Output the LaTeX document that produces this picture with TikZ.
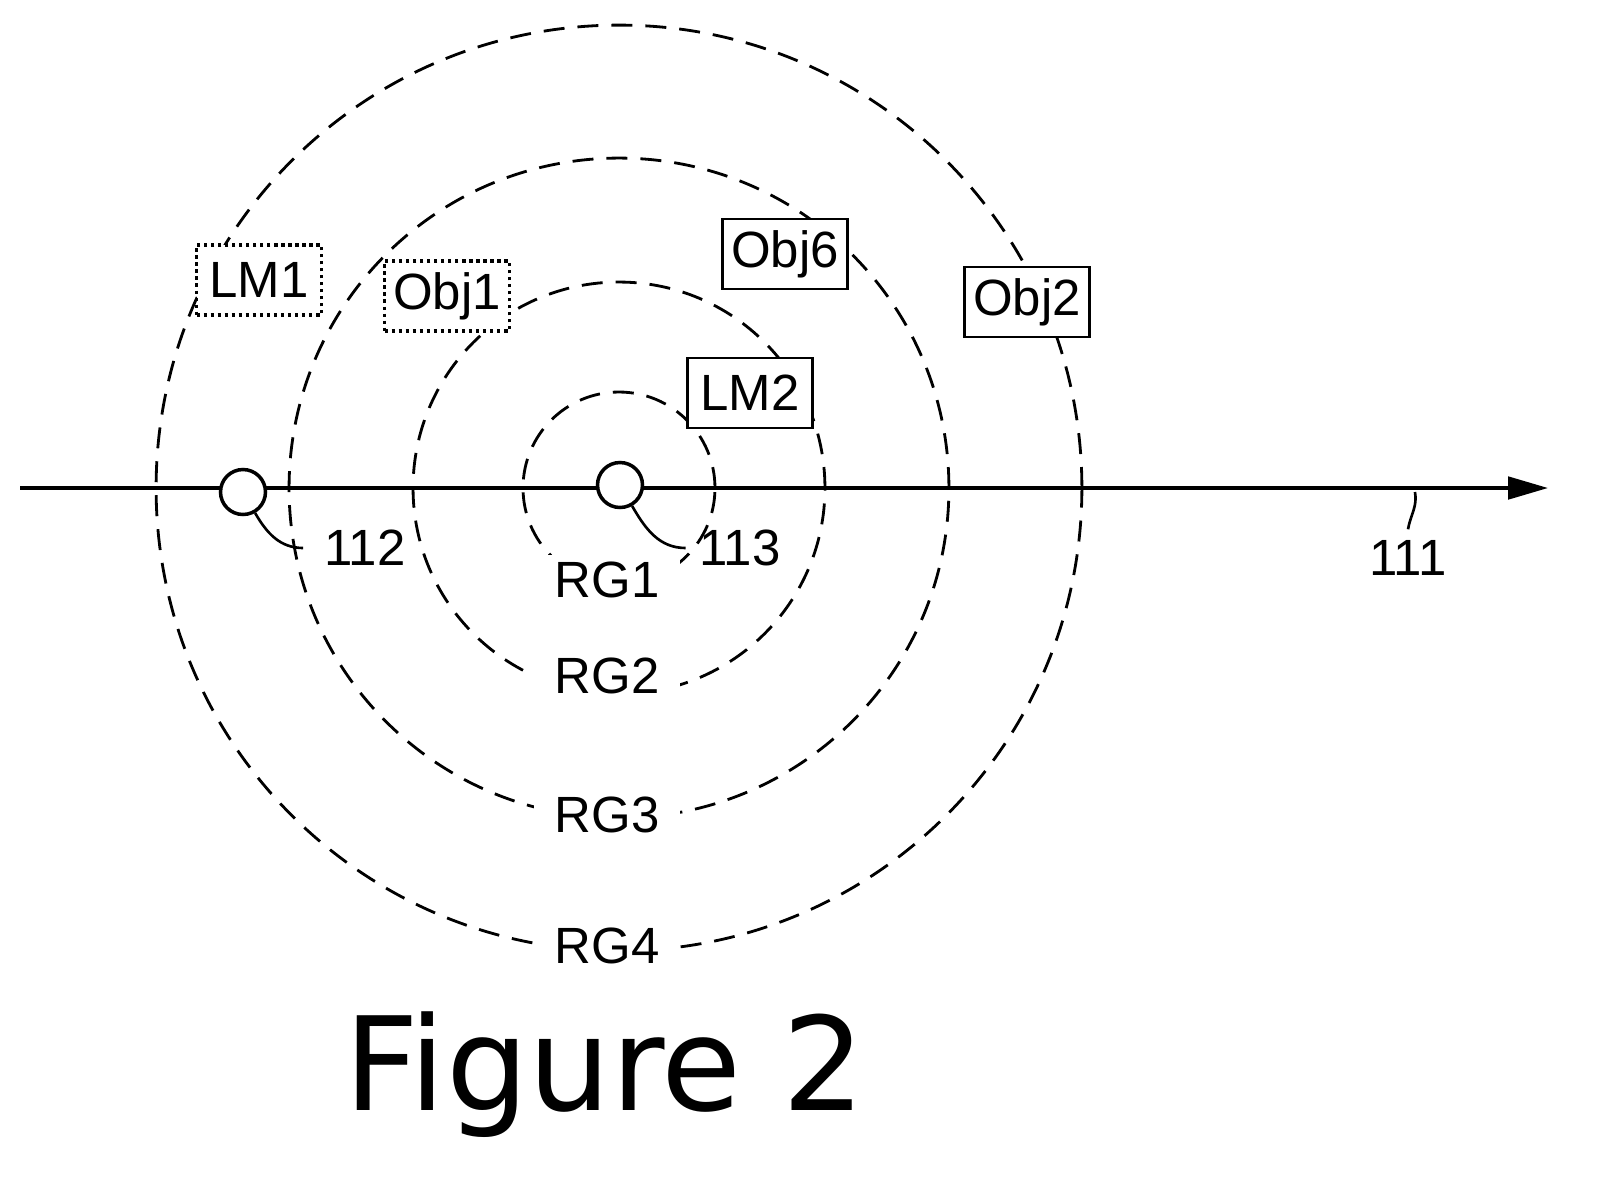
\documentclass[tikz,border=0pt]{standalone}
\usepackage{fontspec}
\setmainfont{Liberation Sans}
\newfontfamily\figfont{DejaVu Sans}
\usetikzlibrary{arrows.meta}
\tikzset{
  ring/.style={dash pattern=on 0.42cm off 0.26cm, line width=1.6pt},
  objbox/.style={draw, line width=1.6pt, fill=white, minimum width=2.5cm, minimum height=1.4cm, font=\fontsize{29}{32}\selectfont},
  lmbox/.style={objbox, dash pattern=on 2pt off 2pt, line width=1.8pt},
  rglabel/.style={fill=white, inner xsep=12pt, inner ysep=4pt, font=\fontsize{29}{32}\selectfont},
  reflabel/.style={font=\fontsize{29}{32}\selectfont}
}
\begin{document}
\begin{tikzpicture}[x=0.02cm,y=-0.02cm]
\useasboundingbox (0,0) rectangle (1614,1198);
% rings around the vehicle
\coordinate (c) at (619,488);
\draw[ring] (c) circle[radius=1.92cm];
\draw[ring] (c) circle[radius=4.12cm];
\draw[ring] (c) circle[radius=6.6cm];
\draw[ring] (c) circle[radius=9.26cm];
% axis
\coordinate (ax0) at (20,488);
\coordinate (ax1) at (1548,488);
\draw[line width=2pt, -{Triangle[length=0.8cm,width=0.45cm]}] (ax0) -- (ax1);
\node[rglabel] (rg1) at (607,580) {RG1};
\node[rglabel] (rg2) at (607,676) {RG2};
\node[rglabel] (rg3) at (607,815) {RG3};
\node[rglabel] (rg4) at (607,946) {RG4};
% objects
\node[lmbox] (lm1) at (259,280) {LM1};
\node[lmbox] (obj1) at (447,296) {Obj1};
\node[objbox] (obj6) at (785,254) {Obj6};
\node[objbox] (obj2) at (1027,302) {Obj2};
\node[objbox] (lm2) at (750,393) {LM2};
% own position and reference points
\node[draw, circle, line width=2pt, fill=white, minimum size=0.9cm] (p112) at (243,492) {};
\node[draw, circle, line width=2pt, fill=white, minimum size=0.9cm] (p113) at (620,485) {};
\node[reflabel] (l112) at (365,548) {112};
\node[reflabel] (l113) at (740,548) {113};
\node[reflabel] (l111) at (1408,558) {111};
\coordinate (a111) at (1415,492);
\draw[line width=1.5pt] (p112.-60) to[out=-60,in=180] ([xshift=-0.3cm]l112.west);
\draw[line width=1.5pt] (p113.-60) to[out=-60,in=180] ([xshift=-0.15cm]l113.west);
\draw[line width=1.5pt] (a111) to[out=-80,in=80] ([yshift=0.1cm]l111.north);
\node[font=\figfont\fontsize{74}{80}\selectfont] (fig) at (605,1075) {Figure 2};
\end{tikzpicture}
\end{document}
